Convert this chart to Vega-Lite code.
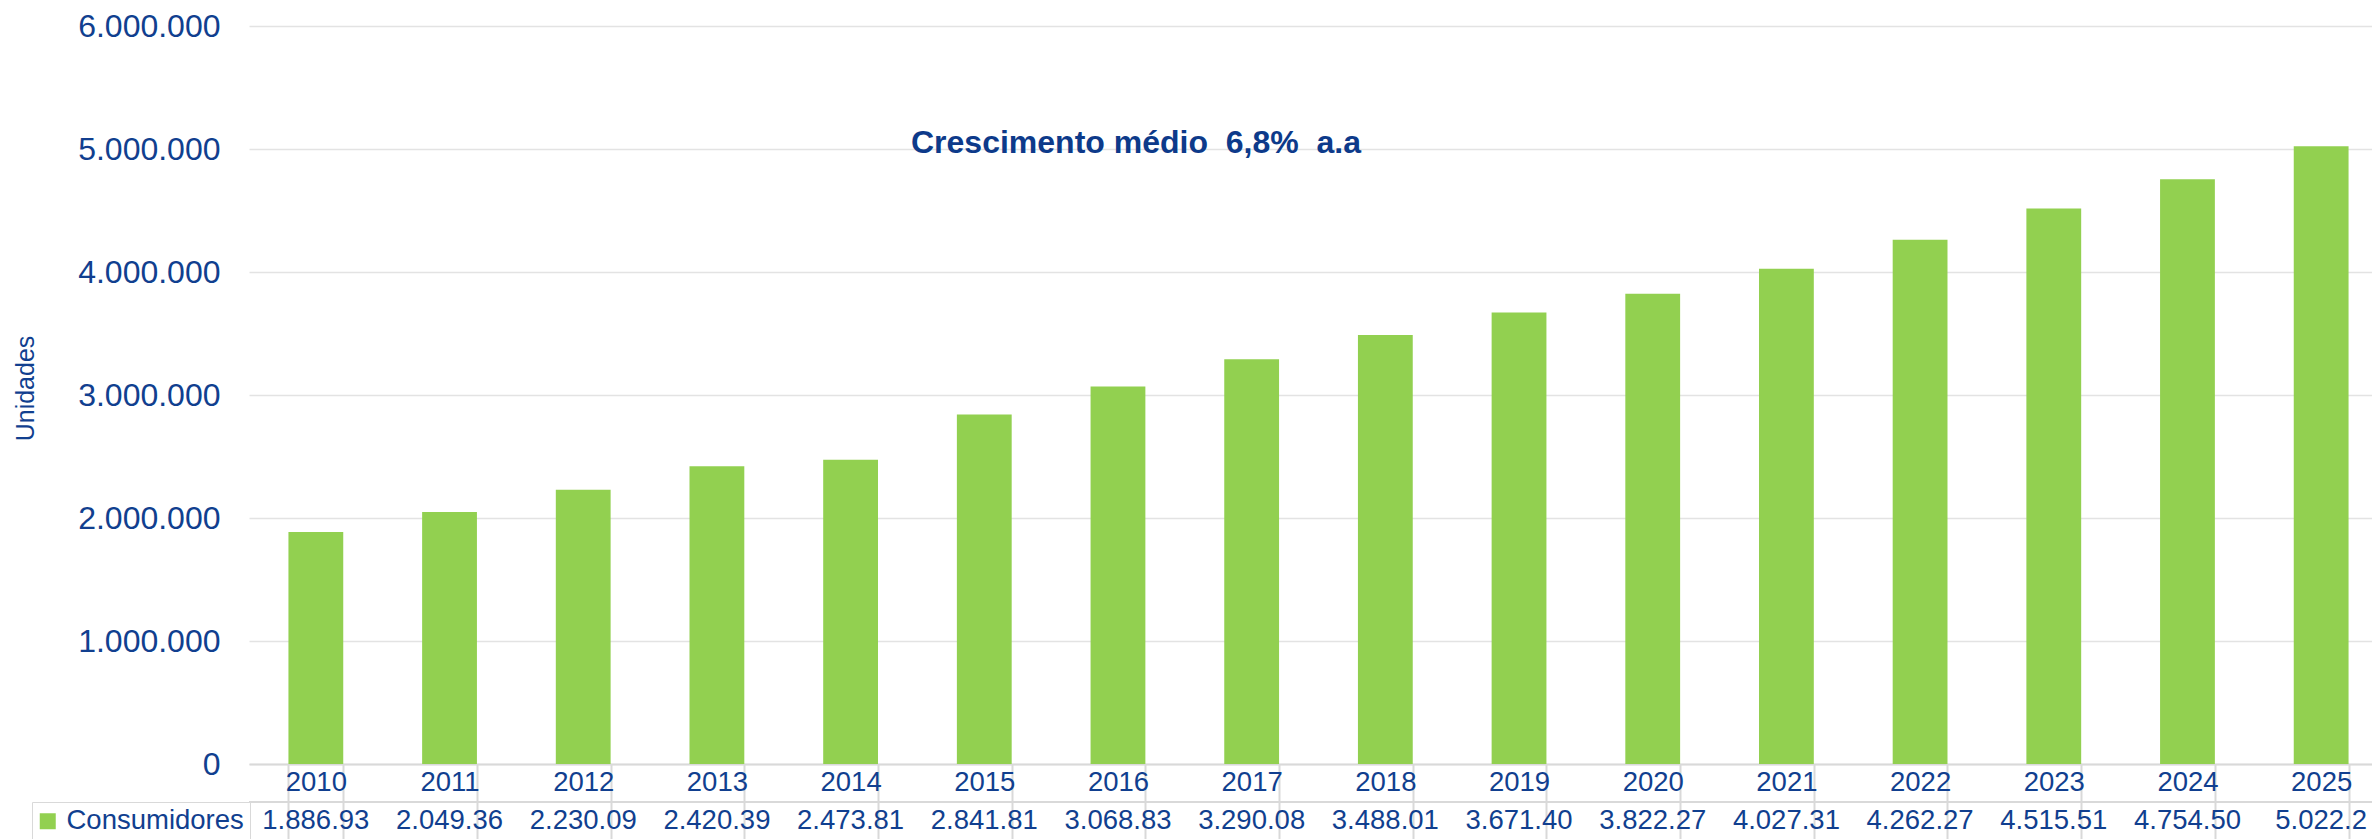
{
  "$schema": "https://vega.github.io/schema/vega-lite/v6.json",
  "width": 2123,
  "height": 738,
  "autosize": {"type": "none"},
  "padding": {"left": 249, "top": 26, "right": 0, "bottom": 75},
  "background": "white",
  "config": {
    "view": {"stroke": null},
    "font": "Liberation Sans",
    "locale": {"number": {"decimal": ",", "thousands": ".", "grouping": [3], "currency": ["R$ ", ""]}}
  },
  "data": {
    "values": [
      {"ano": "2010", "valor": 1886930, "rotulo": "1.886.93", "serie": "Consumidores"},
      {"ano": "2011", "valor": 2049360, "rotulo": "2.049.36", "serie": "Consumidores"},
      {"ano": "2012", "valor": 2230090, "rotulo": "2.230.09", "serie": "Consumidores"},
      {"ano": "2013", "valor": 2420390, "rotulo": "2.420.39", "serie": "Consumidores"},
      {"ano": "2014", "valor": 2473810, "rotulo": "2.473.81", "serie": "Consumidores"},
      {"ano": "2015", "valor": 2841810, "rotulo": "2.841.81", "serie": "Consumidores"},
      {"ano": "2016", "valor": 3068830, "rotulo": "3.068.83", "serie": "Consumidores"},
      {"ano": "2017", "valor": 3290080, "rotulo": "3.290.08", "serie": "Consumidores"},
      {"ano": "2018", "valor": 3488010, "rotulo": "3.488.01", "serie": "Consumidores"},
      {"ano": "2019", "valor": 3671400, "rotulo": "3.671.40", "serie": "Consumidores"},
      {"ano": "2020", "valor": 3822270, "rotulo": "3.822.27", "serie": "Consumidores"},
      {"ano": "2021", "valor": 4027310, "rotulo": "4.027.31", "serie": "Consumidores"},
      {"ano": "2022", "valor": 4262270, "rotulo": "4.262.27", "serie": "Consumidores"},
      {"ano": "2023", "valor": 4515510, "rotulo": "4.515.51", "serie": "Consumidores"},
      {"ano": "2024", "valor": 4754500, "rotulo": "4.754.50", "serie": "Consumidores"},
      {"ano": "2025", "valor": 5022200, "rotulo": "5.022.2", "serie": "Consumidores"}
    ]
  },
  "layer": [
    {
      "mark": {"type": "bar"},
      "encoding": {
        "x": {
          "field": "ano", "type": "nominal", "sort": null,
          "scale": {"range": [0, 2139], "paddingInner": 0.59, "paddingOuter": 0.295},
          "axis": {
            "title": null, "labelAngle": 0, "labelFontSize": 27.5, "labelColor": "#113f8f",
            "labelFont": "Liberation Sans", "tickBand": "extent", "tickSize": 75,
            "tickColor": "#d9d9d9", "tickWidth": 2, "domainColor": "#d9d9d9", "domainWidth": 2,
            "labelPadding": -56.5, "labelBaseline": "middle", "grid": false,
            "labelOverlap": false, "labelBound": false
          }
        },
        "y": {
          "field": "valor", "type": "quantitative",
          "scale": {"domain": [0, 6000000]},
          "axis": {
            "title": "Unidades",
            "values": [0, 1000000, 2000000, 3000000, 4000000, 5000000, 6000000],
            "format": ",d", "labelFontSize": 32, "labelColor": "#113f8f", "labelFont": "Liberation Sans",
            "labelPadding": 29, "ticks": false, "domain": false,
            "grid": true, "gridColor": "#e3e3e3", "gridWidth": 1.5,
            "titleFontSize": 25, "titleFontWeight": "normal", "titleColor": "#113f8f", "titleFont": "Liberation Sans",
            "titleX": -216, "titleY": 362, "titleAngle": -90, "titleBaseline": "alphabetic", "titleAlign": "center"
          }
        },
        "color": {
          "field": "serie", "type": "nominal",
          "scale": {"range": ["#92d050"]},
          "legend": {
            "title": null, "orient": "none", "legendX": -217, "legendY": 776,
            "symbolType": "square", "symbolSize": 256, "symbolStrokeWidth": 0,
            "labelFontSize": 27.5, "labelColor": "#113f8f", "labelFont": "Liberation Sans", "labelLimit": 0,
            "strokeColor": "#d9d9d9", "padding": 5.5, "symbolOffset": -3.5, "labelOffset": 5
          }
        }
      }
    },
    {
      "data": {"values": [{"linha": "separador"}]},
      "mark": {"type": "rule", "color": "#d9d9d9", "strokeWidth": 2},
      "encoding": {"y": {"datum": -309000}}
    },
    {
      "mark": {"type": "text", "fontSize": 27.5, "color": "#113f8f", "baseline": "middle", "align": "center", "font": "Liberation Sans"},
      "encoding": {
        "x": {"field": "ano", "type": "nominal", "sort": null},
        "y": {"datum": -463000},
        "text": {"field": "rotulo"}
      }
    },
    {
      "data": {"values": [{"texto": "Crescimento médio \u00a06,8% \u00a0a.a"}]},
      "mark": {"type": "text", "fontSize": 32, "fontWeight": "bold", "color": "#0d3a8a", "baseline": "middle", "align": "center", "dx": 18, "font": "Liberation Sans"},
      "encoding": {
        "x": {"datum": "2016"},
        "y": {"datum": 5050000},
        "text": {"field": "texto"}
      }
    }
  ]
}
